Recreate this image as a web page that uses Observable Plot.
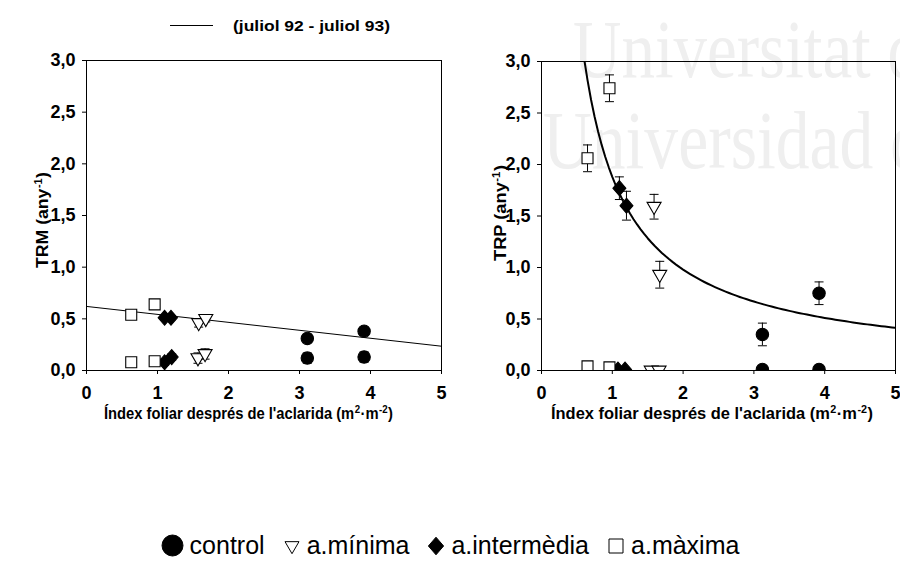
<!DOCTYPE html>
<html>
<head>
<meta charset="utf-8">
<script src="https://cdn.jsdelivr.net/npm/d3@7"></script>
<script src="https://cdn.jsdelivr.net/npm/@observablehq/plot@0.6"></script>
<style>
  body { margin: 0; background: #fff; }
  #page { position: relative; width: 900px; height: 562px; overflow: hidden; background: #fff;
          font-family: "Liberation Sans", Arial, sans-serif; }
  .abs { position: absolute; top: 0; }
  #legend { position: absolute; left: 0; top: 531px; width: 900px; display: flex; justify-content: center;
            align-items: center; font-size: 25px; color: #000; }
  #legend .item { display: flex; align-items: center; margin: 0 9px; }
  #legend svg { margin-right: 6px; }
</style>
</head>
<body>
<div id="page"></div>
<script>
// Treatments (thinning intensity) and their plotted order
const treatments = ["control", "a.mínima", "a.intermèdia", "a.màxima"];

// TRM panel: leaf area index after thinning, TRM value, standard error
const trmGroup = ["control", "control", "control", "control",
                  "a.mínima", "a.mínima", "a.mínima", "a.mínima",
                  "a.intermèdia", "a.intermèdia", "a.intermèdia", "a.intermèdia",
                  "a.màxima", "a.màxima", "a.màxima", "a.màxima"];
const trmX   = [3.11, 3.11, 3.91, 3.91, 1.58, 1.68, 1.57, 1.67, 1.10, 1.19, 1.10, 1.20, 0.63, 0.96, 0.63, 0.96];
const trmY   = [0.31, 0.12, 0.38, 0.13, 0.46, 0.50, 0.12, 0.16, 0.51, 0.51, 0.08, 0.13, 0.54, 0.64, 0.08, 0.09];
const trmErr = [0.04, 0.05, 0.03, 0.05, 0.04, 0.03, 0.05, 0.05, 0.02, 0.02, 0.03, 0.03, 0.02, 0.02, 0.04, 0.04];

// TRP panel
const trpGroup = trmGroup;
const trpX   = [3.12, 3.92, 3.12, 3.92, 1.59, 1.67, 1.55, 1.66, 1.10, 1.20, 1.08, 1.18, 0.96, 0.65, 0.65, 0.96];
const trpY   = [0.35, 0.75, 0.01, 0.01, 1.59, 0.93, 0.00, 0.00, 1.77, 1.60, 0.01, 0.01, 2.74, 2.06, 0.04, 0.03];
const trpErr = [0.11, 0.11, 0.00, 0.00, 0.12, 0.13, 0.00, 0.00, 0.11, 0.14, 0.00, 0.00, 0.13, 0.13, 0.00, 0.00];

// Fitted relations (juliol 92 - juliol 93)
const trmFit = { intercept: 0.62, slope: -0.077 };   // linear
const trpFit = { a: 1.88, b: -0.94 };                // power: a·x^b

const xTicks = [0, 1, 2, 3, 4, 5];
const yTicks = [0, 0.5, 1, 1.5, 2, 2.5, 3];

// ---- marker shapes -------------------------------------------------------
const rad = s => Math.sqrt(s / Math.PI);
const shapes = {
  circle:   { draw(c, s) { const r = rad(s); c.moveTo(r, 0); c.arc(0, 0, r, 0, 2 * Math.PI); } },
  triDown:  { draw(c, s) { const r = rad(s); c.moveTo(-r, -r * 0.62); c.lineTo(r, -r * 0.62); c.lineTo(0, r * 1.1); c.closePath(); } },
  diamond:  { draw(c, s) { const r = rad(s); c.moveTo(0, -r * 1.1); c.lineTo(r * 0.95, 0); c.lineTo(0, r * 1.1); c.lineTo(-r * 0.95, 0); c.closePath(); } },
  square:   { draw(c, s) { const r = rad(s); c.moveTo(-r, -r); c.lineTo(r, -r); c.lineTo(r, r); c.lineTo(-r, r); c.closePath(); } },
  cap:      { draw(c, s) { const r = rad(s); c.moveTo(-r, 0); c.lineTo(r, 0); } }
};
const markerStyle = {
  "control":      { symbol: shapes.circle,  fill: "black", r: 6.2 },
  "a.mínima":     { symbol: shapes.triDown, fill: "white", r: 7 },
  "a.intermèdia": { symbol: shapes.diamond, fill: "black", r: 6.8 },
  "a.màxima":     { symbol: shapes.square,  fill: "white", r: 5.5 }
};

const rows = (g, x, y, e) => g.map((grp, i) => ({ group: grp, x: x[i], y: y[i], err: e[i] }));
const trmData = rows(trmGroup, trmX, trmY, trmErr);
const trpData = rows(trpGroup, trpX, trpY, trpErr);

const trmLine = [0, 5].map(x => ({ x, y: trmFit.intercept + trmFit.slope * x }));
const trpStart = Math.pow(3 / trpFit.a, 1 / trpFit.b);
const trpLine = [trpStart, ...d3.range(0.65, 5.001, 0.05)].map(x => ({ x, y: trpFit.a * Math.pow(x, trpFit.b) }));

const comma = d => d.toFixed(1).replace(".", ",");

function panel({ data, fit, fitWidth, marginLeft, marginRight, marginTop }) {
  const bars = data.filter(d => d.err > 0);
  const marks = [
    Plot.line(fit, { x: "x", y: "y", stroke: "black", strokeWidth: fitWidth }),
    Plot.ruleX(bars, { x: "x", y1: d => d.y - d.err, y2: d => d.y + d.err, stroke: "black", strokeWidth: 1 }),
    Plot.dot(bars, { x: "x", y: d => d.y + d.err, symbol: shapes.cap, r: 4.5, fill: "none", stroke: "black", strokeWidth: 1 }),
    Plot.dot(bars, { x: "x", y: d => d.y - d.err, symbol: shapes.cap, r: 4.5, fill: "none", stroke: "black", strokeWidth: 1 })
  ];
  for (const t of treatments) {
    const st = markerStyle[t];
    marks.push(Plot.dot(data.filter(d => d.group === t), {
      x: "x", y: "y", symbol: st.symbol, r: st.r, fill: st.fill, stroke: "black", strokeWidth: 1.1
    }));
  }
  marks.push(Plot.frame({ stroke: "black", strokeWidth: 1 }));
  return Plot.plot({
    width: 450, height: 430,
    marginLeft, marginRight, marginTop, marginBottom: 60,
    style: { fontFamily: '"Liberation Sans", Arial, sans-serif', fontSize: "18px", fontWeight: "bold",
             color: "black", background: "transparent", overflow: "visible" },
    x: { domain: [0, 5], ticks: xTicks, tickFormat: d => String(d), tickSize: 4, tickPadding: 12, label: null },
    y: { domain: [0, 3], ticks: yTicks, tickFormat: comma, tickSize: 4, tickPadding: 7, label: null },
    clip: true,
    marks
  });
}

const page = document.getElementById("page");
const NS = "http://www.w3.org/2000/svg";

// faint background lettering behind the right panel, and the fit key
const bg = document.createElementNS(NS, "svg");
bg.setAttribute("width", 900); bg.setAttribute("height", 562);
bg.setAttribute("class", "abs"); bg.style.left = "0px";
bg.innerHTML = `
  <g font-family="'Liberation Serif', 'DejaVu Serif', serif" font-size="82" fill="#efefef">
    <text x="573" y="77" textLength="348" lengthAdjust="spacingAndGlyphs">Universitat d</text>
    <text x="543" y="168" textLength="381" lengthAdjust="spacingAndGlyphs">Universidad d</text>
  </g>
  <line x1="170" x2="213" y1="25.5" y2="25.5" stroke="black" stroke-width="1"/>
  <text x="233" y="31" font-family="'Liberation Sans', Arial, sans-serif" font-weight="bold" font-size="15"
        textLength="157" lengthAdjust="spacingAndGlyphs">(juliol 92 - juliol 93)</text>`;
page.appendChild(bg);

const left = panel({ data: trmData, fit: trmLine, fitWidth: 1, marginLeft: 86, marginRight: 9, marginTop: 60 });
left.classList.add("abs"); left.style.left = "0px";
page.appendChild(left);

const right = panel({ data: trpData, fit: trpLine, fitWidth: 2, marginLeft: 91, marginRight: 5, marginTop: 61 });
right.classList.add("abs"); right.style.left = "450px";
page.appendChild(right);

// axis titles with true superscripts
const fg = document.createElementNS(NS, "svg");
fg.setAttribute("width", 900); fg.setAttribute("height", 562);
fg.setAttribute("class", "abs"); fg.style.left = "0px"; fg.style.pointerEvents = "none";
page.appendChild(fg);

function title(parts, attrs) {
  const t = document.createElementNS(NS, "text");
  for (const [k, v] of Object.entries(attrs)) t.setAttribute(k, v);
  t.setAttribute("font-family", "'Liberation Sans', Arial, sans-serif");
  t.setAttribute("font-weight", "bold");
  t.setAttribute("lengthAdjust", "spacingAndGlyphs");
  let prevSup = false;
  for (const [str, sup] of parts) {
    const s = document.createElementNS(NS, "tspan");
    s.textContent = str;
    if (sup) { s.setAttribute("font-size", "10.5"); s.setAttribute("dy", "-6"); s.setAttribute("dx", "0.5"); }
    else if (prevSup) { s.setAttribute("dy", "6"); s.setAttribute("dx", "0.5"); }
    prevSup = sup;
    t.appendChild(s);
  }
  fg.appendChild(t);
}
const xTitle = [["Índex foliar després de l'aclarida (m", false], ["2", true], ["·m", false], ["-2", true], [")", false]];
title(xTitle, { x: 104, y: 419, "font-size": 16, textLength: 289 });
title(xTitle, { x: 551, y: 419, "font-size": 16, textLength: 322 });
title([["TRM (any", false], ["-1", true], [")", false]],
      { transform: "translate(48,220) rotate(-90)", "text-anchor": "middle", "font-size": 17, textLength: 96 });
title([["TRP (any", false], ["-1", true], [")", false]],
      { transform: "translate(506,213) rotate(-90)", "text-anchor": "middle", "font-size": 17, textLength: 96 });

// treatment key
const legend = document.createElement("div");
legend.id = "legend";
for (const t of treatments) {
  const st = markerStyle[t];
  const item = document.createElement("div");
  item.className = "item";
  const sz = t === "control" ? 23 : 18;
  const sw = d3.create("svg").attr("width", sz).attr("height", sz);
  const p = d3.path();
  const rr = t === "control" ? 10.5 : t === "a.intermèdia" ? 8 : 7;
  st.symbol.draw(p, rr * rr * Math.PI);
  sw.append("path").attr("d", p.toString()).attr("transform", `translate(${sz / 2},${sz / 2})`)
    .attr("fill", st.fill).attr("stroke", "black").attr("stroke-width", 1);
  item.appendChild(sw.node());
  const lab = document.createElement("span");
  lab.textContent = t;
  item.appendChild(lab);
  legend.appendChild(item);
}
page.appendChild(legend);
</script>
</body>
</html>
